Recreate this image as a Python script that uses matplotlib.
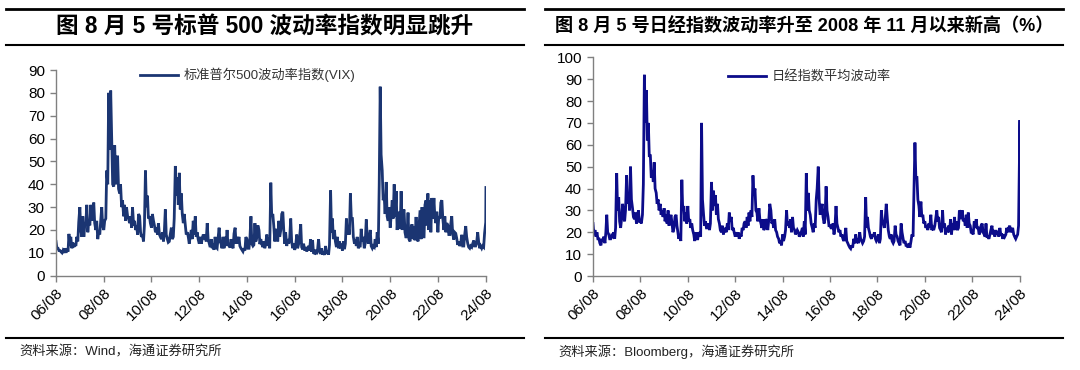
import matplotlib
matplotlib.use('Agg')
import matplotlib.pyplot as plt
import matplotlib.dates as mdates
from matplotlib.lines import Line2D
import pandas as pd

plt.rcParams['font.family'] = ['Liberation Sans', 'Noto Sans CJK SC']

# two readings per month (1st / 15th), Aug 2006 .. Jul 2024
vix = [
    15, 12, 12, 11, 11, 10.5, 10, 11, 10, 12,  # 2006 Aug-Dec
    10, 12, 10.5, 18.3, 13, 17, 12, 14.5, 12.5, 14, 13, 17, 15, 23.5, 30, 20, 17, 26, 17, 22, 23, 31, 19, 24,
    22, 31, 24, 28, 32, 23, 20, 24, 16, 19, 18, 24, 30, 22, 20, 24, 25, 46, 40, 80, 55, 81, 60, 40,
    39, 57, 40, 52, 52, 38, 36, 40, 30, 33, 26, 31, 24, 30, 26, 25, 23, 26, 21, 30, 22, 24, 20, 22,
    18, 27, 26, 19, 17, 18, 15, 22, 46, 30, 35, 25, 26, 23, 21, 27, 24, 22, 19, 21, 18, 23, 18, 17,
    16, 19, 15, 20, 29, 18, 16, 14.6, 15, 18, 21, 16, 17, 25, 48, 35, 43, 31, 45, 29, 36, 27, 23, 27,
    22, 18, 19, 17, 14, 17, 20, 16, 24, 18, 26, 17, 19, 16, 14, 17, 14, 16, 18, 16, 18, 15, 23, 16,
    14, 12.5, 16, 12, 14, 11.3, 17, 12.5, 12, 16, 21, 15, 14, 12, 17, 12, 17, 13, 20, 13, 14, 12.2, 16, 13,
    12, 18.4, 21, 14, 17, 14, 17, 13, 12, 11.4, 10.6, 12, 11, 16.9, 16, 12, 12, 16, 26, 14, 13, 13.5, 23, 15,
    17, 22, 20, 13.8, 16, 14, 12.5, 15, 12, 14, 18, 13, 16.5, 12, 40.7, 26, 27, 22, 15, 20, 20, 15, 24, 17,
    20, 27, 28, 20, 14, 19, 13, 16, 14, 16, 25, 15, 12, 14, 11.3, 13, 18, 12, 14, 17, 22.5, 12.5, 11.5, 14,
    11, 12.5, 10.6, 12, 13, 11, 15.9, 10.5, 15.6, 10, 9.8, 11.4, 9.4, 10.9, 16, 11, 9.5, 12, 9.2, 10.5, 9.1, 13, 9.5, 11,
    9.2, 13.5, 37.3, 19, 25, 16, 20, 15, 12.5, 17, 12, 15, 12, 14, 11, 15, 11.6, 14, 25, 18, 21, 18, 36, 25,
    25, 17, 14, 16, 13, 17, 12, 13, 13, 20.5, 15, 17, 12, 14, 24.6, 17, 14, 17, 20, 13, 12, 13, 12.5, 16,
    12.5, 19, 14, 40, 82.7, 53, 46, 33, 35, 27, 41, 26, 24, 30, 21, 26, 33, 25, 40, 26, 37, 20, 28, 21,
    21, 37, 20, 28, 29, 19, 16.5, 18, 27.6, 16, 15, 20.7, 22.5, 16, 21.7, 15.5, 25.7, 17, 15, 21, 28.6, 16, 30, 17,
    17, 31, 33, 22, 36, 20, 33, 19, 34, 25, 34, 26, 23, 28, 19, 26, 25, 32, 33, 25, 20, 26, 19, 23,
    22, 18, 18, 23, 26, 18.5, 15.8, 19, 18.5, 16.5, 13.5, 15, 13, 14, 17.9, 13, 13, 18, 21.7, 17, 14, 12.5, 12, 13,
    12.5, 14, 15.4, 13, 13, 14.3, 19, 15, 12, 13, 12, 13, 12.5, 18.5,  # 2024 Jan-Jul
]
vix_aug24 = [23.4, 38.6]          # 2 Aug, 5 Aug 2024
vix_aug24_days = ['2024-08-02', '2024-08-05']

nky = [
    24, 19, 21, 18, 20, 17, 17, 15, 14, 17,  # 2006 Aug-Dec
    16, 18, 15, 20, 28, 20, 19, 17, 17, 18.5, 18, 20, 17, 22, 47, 30, 36, 25, 22, 26, 33, 27, 25, 30,
    46, 33, 38, 30, 50, 35, 31, 27, 26, 29, 24, 27, 30, 25, 25, 24, 28, 42, 92, 70, 85, 62, 70, 55,
    55, 45, 48, 43, 52, 40, 38, 33, 35, 30, 33, 28, 30, 27, 31, 25, 28, 24, 30, 23, 26, 28, 24, 20,
    22, 27, 28, 23, 20, 17, 19, 16, 44, 30, 32, 25, 29, 24, 32, 25, 26, 22, 24, 21, 19, 16, 20, 17,
    17, 20, 19, 18, 70, 35, 28, 23, 25, 22, 22, 24, 21, 24, 43, 30, 39, 32, 37, 28, 33, 26, 24, 21,
    20, 23, 19, 22, 21, 20, 24, 21, 29, 25, 27, 21, 22, 20, 18, 20, 18, 20, 17, 19, 18, 22, 21, 24,
    25, 22, 27, 23, 29, 25, 30, 27, 46, 37, 40, 30, 29, 25, 31, 26, 24, 22, 26, 21, 22, 26, 25, 21,
    26, 33, 30, 24, 25, 22, 26, 21, 20, 18, 17, 15, 16, 14, 19, 16, 18, 21, 30, 23, 25, 22, 26, 20,
    27, 22, 21, 19, 20, 21, 20, 18, 19, 20, 22, 18, 25, 19, 47, 30, 38, 30, 28, 24, 22, 20, 24, 22,
    35, 40, 50, 35, 28, 30, 33, 27, 24, 26, 41, 30, 27, 23, 23, 22, 22, 24, 19, 22, 32, 24, 22, 20,
    21, 18, 19, 17, 16, 18, 22, 16, 15, 14, 13, 12.5, 14, 13, 17, 15, 19, 15, 17, 15, 20, 17, 16, 15,
    16, 18, 36, 22, 27, 22, 20, 18, 17, 19, 18, 20, 17, 16, 17, 19, 15, 17, 30, 25, 24, 22, 27, 33,
    26, 21, 18, 17, 19, 16, 15, 16, 23, 19, 18, 16, 15, 14, 24, 20, 17, 15, 16, 14, 14, 13, 15, 13,
    16, 19, 18, 40, 61, 45, 45, 35, 32, 27, 34, 27, 28, 24, 25, 22, 23, 21, 24, 22, 28, 21, 22, 21,
    23, 26, 30, 25, 27, 22, 21, 20, 30, 22, 24, 19, 22, 20, 23, 20, 26, 19, 24, 21, 27, 21, 25, 21,
    22, 30, 29, 26, 30, 25, 26, 23, 28, 22, 29, 24, 23, 20, 20, 19, 25, 22, 26, 22, 22, 19, 20, 23,
    24, 20, 19, 18, 24, 18, 18, 17, 19, 21, 23, 19, 21, 18, 21, 19, 20, 18, 22, 19, 19, 17, 19, 18,
    19, 22, 20, 22, 23, 20, 21, 22, 19, 18, 17, 18, 19, 23,  # 2024 Jan-Jul
]
nky_aug24 = [71.3, 45]            # 5 Aug, 6 Aug 2024
nky_aug24_days = ['2024-08-05', '2024-08-06']

tick_years = list(range(2006, 2025, 2))

W, H = 1080, 370


def fx(px):
    return px / W


def fy(py):
    return 1 - py / H


semi = pd.date_range('2006-08-01', '2024-07-31', freq='SMS')
assert len(semi) == len(vix) == len(nky)

fig = plt.figure(figsize=(W / 100, H / 100), dpi=100)


def panel(left, right, top, bottom, dates, values, color, ymax, ystep,
          label, leg_xy, title, title_size, source, rule_x):
    ax = fig.add_axes([fx(left), fy(bottom), fx(right - left), fy(top) - fy(bottom)])
    ax.plot(dates, values, color=color, lw=2.0, solid_joinstyle='miter')
    ax.set_ylim(0, ymax)
    ax.set_yticks(range(0, ymax + 1, ystep))
    ax.set_xlim(pd.Timestamp('2006-08-01'), pd.Timestamp('2024-08-06'))
    ax.set_xticks([pd.Timestamp(f'{y}-08-01') for y in tick_years])
    ax.xaxis.set_major_formatter(mdates.DateFormatter('%y/%m'))
    for s in ['top', 'right']:
        ax.spines[s].set_visible(False)
    for s in ['left', 'bottom']:
        ax.spines[s].set_color('#808080')
        ax.spines[s].set_linewidth(1.0)
    ax.tick_params(axis='both', colors='#808080', labelcolor='black', length=4,
                   width=1.0, labelsize=11)
    ax.tick_params(axis='y', pad=4)
    plt.setp(ax.get_xticklabels(), rotation=45, ha='right', va='top',
             rotation_mode='anchor')
    ax.legend([label], loc='center left', bbox_to_anchor=leg_xy, frameon=False,
              borderpad=0, borderaxespad=0, handlelength=2.9, handletextpad=0.4,
              prop={'family': ['Liberation Sans', 'Noto Sans CJK SC'], 'size': 9.5},
              labelcolor='#333333')

    # title bar and footer rules
    x0, x1 = rule_x
    fig.add_artist(Line2D([fx(x0), fx(x1)], [fy(8.6), fy(8.6)], color='black', lw=2.0))
    fig.add_artist(Line2D([fx(x0), fx(x1)], [fy(44.8), fy(44.8)], color='black', lw=1.5))
    fig.add_artist(Line2D([fx(x0), fx(x1)], [fy(337.6), fy(337.6)], color='black', lw=1.5))
    fig.text(fx((x0 + x1) / 2), fy(27), title, ha='center', va='center',
             fontsize=title_size, fontweight='bold')
    fig.text(fx(x0 + 13), fy(352), source, ha='left', va='center',
             fontsize=9.5, color='#222222')
    return ax


vix_dates = list(semi) + [pd.Timestamp(d) for d in vix_aug24_days]
nky_dates = list(semi) + [pd.Timestamp(d) for d in nky_aug24_days]

panel(56, 486, 70, 275.7, vix_dates, vix + vix_aug24, '#1b3572', 90, 10,
      '标准普尔500波动率指数(VIX)', (0.195, 0.976),
      '图 8 月 5 号标普 500 波动率指数明显跳升', 16.3,
      '资料来源：Wind，海通证券研究所', (6, 524))

panel(593, 1020, 57.3, 276, nky_dates, nky + nky_aug24, '#0c0c8a', 100, 10,
      '日经指数平均波动率', (0.316, 0.911),
      '图 8 月 5 号日经指数波动率升至 2008 年 11 月以来新高（%）', 13.1,
      '资料来源：Bloomberg，海通证券研究所', (545, 1063))

fig.savefig('out.png', dpi=100)
